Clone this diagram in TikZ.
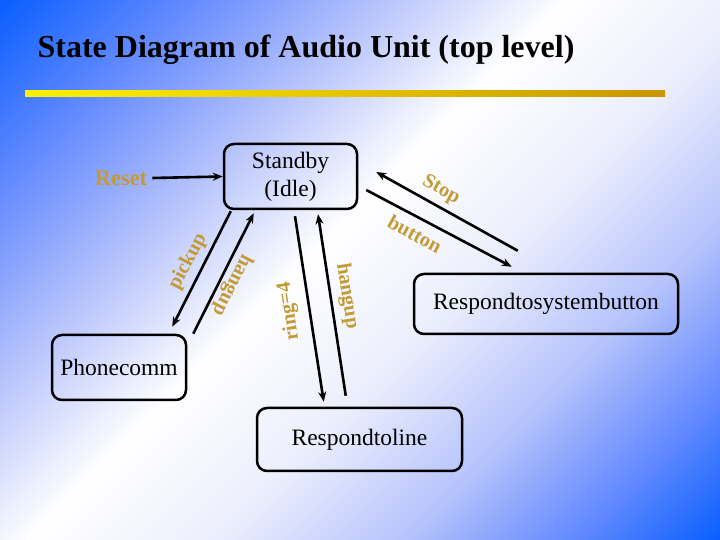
\documentclass[tikz,border=0pt]{standalone}
\usepackage{fontspec}
\setmainfont{Liberation Serif}
\usepackage{tikz}
\usetikzlibrary{arrows.meta,positioning,calc}
\definecolor{bgblue}{HTML}{0A5FFF}
\definecolor{bgdeep}{HTML}{658BFF}
\definecolor{bgmid}{HTML}{B6C3FC}
\definecolor{bglight}{HTML}{EBEEFC}
\definecolor{baryellow}{HTML}{FFF200}
\definecolor{bargold}{HTML}{C99600}
\definecolor{labelgold}{HTML}{C39A35}
\pgfdeclarehorizontalshading{slidebg}{100bp}{color(0bp)=(bgblue); color(14.6bp)=(bgblue); color(25.3bp)=(bgdeep); color(35.9bp)=(bgmid); color(46.5bp)=(white); color(57.1bp)=(bglight); color(67.7bp)=(bgmid); color(76.9bp)=(bgdeep); color(85.4bp)=(bgblue); color(100bp)=(bgblue)}

\begin{document}
\begin{tikzpicture}[
    x=1pt, y=1pt,
    state/.style={draw, line width=2.5pt, rounded corners=10pt, align=center,
                  font=\fontsize{23.5}{28}\selectfont, inner sep=0pt},
    arr/.style={-{Stealth[length=10pt,width=8pt]}, line width=2.6pt},
    lbl/.style={text=labelgold, font=\bfseries\fontsize{20.5}{21}\selectfont, inner sep=0pt},
]
    \useasboundingbox (0,0) rectangle (720,540);
    % slide background and title bar
    \shade[shading=slidebg, shading angle=-45] (0,0) rectangle (720,540);
    \shade[left color=baryellow, right color=bargold] (25,443) rectangle (665,449);
    \node (title) at (306,490) {\bfseries\fontsize{32}{34}\selectfont State Diagram of Audio Unit (top level)};

    % states
    \node[state, minimum width=133pt, minimum height=65pt] (standby) at (290.5,363.5) {Standby\\(Idle)};
    \node[state, minimum width=134pt, minimum height=65pt] (phone) at (119,172.5) {Phonecomm};
    \node[state, minimum width=205pt, minimum height=63pt] (line) at (359.5,100.5) {Respondtoline};
    \node[state, minimum width=264pt, minimum height=60pt] (sysbtn) at (546,236) {Respondtosystembutton};
    \node[lbl] (reset) at (121,362) {\bfseries\fontsize{22.5}{23}\selectfont Reset};

    % transitions
    \draw[arr] (reset.east) ++(5,0) -- (standby.west);
    \draw[arr] ($(standby.south west)+(8,-1)$) -- ($(phone.north east)+(-15,7)$);
    \draw[arr] ($(phone.north east)+(6,0)$) -- ($(standby.south west)+(31,-3)$);
    \draw[arr] ($(standby.south)+(4.5,-6)$) -- ($(line.north west)+(68,5)$);
    \draw[arr] ($(line.north west)+(90,11)$) -- ($(standby.south)+(27.5,-4)$);
    \draw[arr] ($(sysbtn.north west)+(105,22)$) -- ($(standby.east)+(18,4.5)$);
    \draw[arr] ($(standby.east)+(8,-13.5)$) -- ($(sysbtn.north west)+(99,6)$);

    % labels
    \node[lbl, rotate=62] (pickuplbl) at (188,278) {pickup};
    \node[lbl, rotate=-117] (hanglbl) at (232,255) {hangup};
    \node[lbl, rotate=99] (ringlbl) at (289,229) {ring=4};
    \node[lbl, rotate=-81] (hangrlbl) at (347,244) {hangup};
    \node[lbl, rotate=-29] (stoplbl) at (441,350) {Stop};
    \node[lbl, rotate=-29] (btnlbl) at (415,306) {button};
\end{tikzpicture}
\end{document}
